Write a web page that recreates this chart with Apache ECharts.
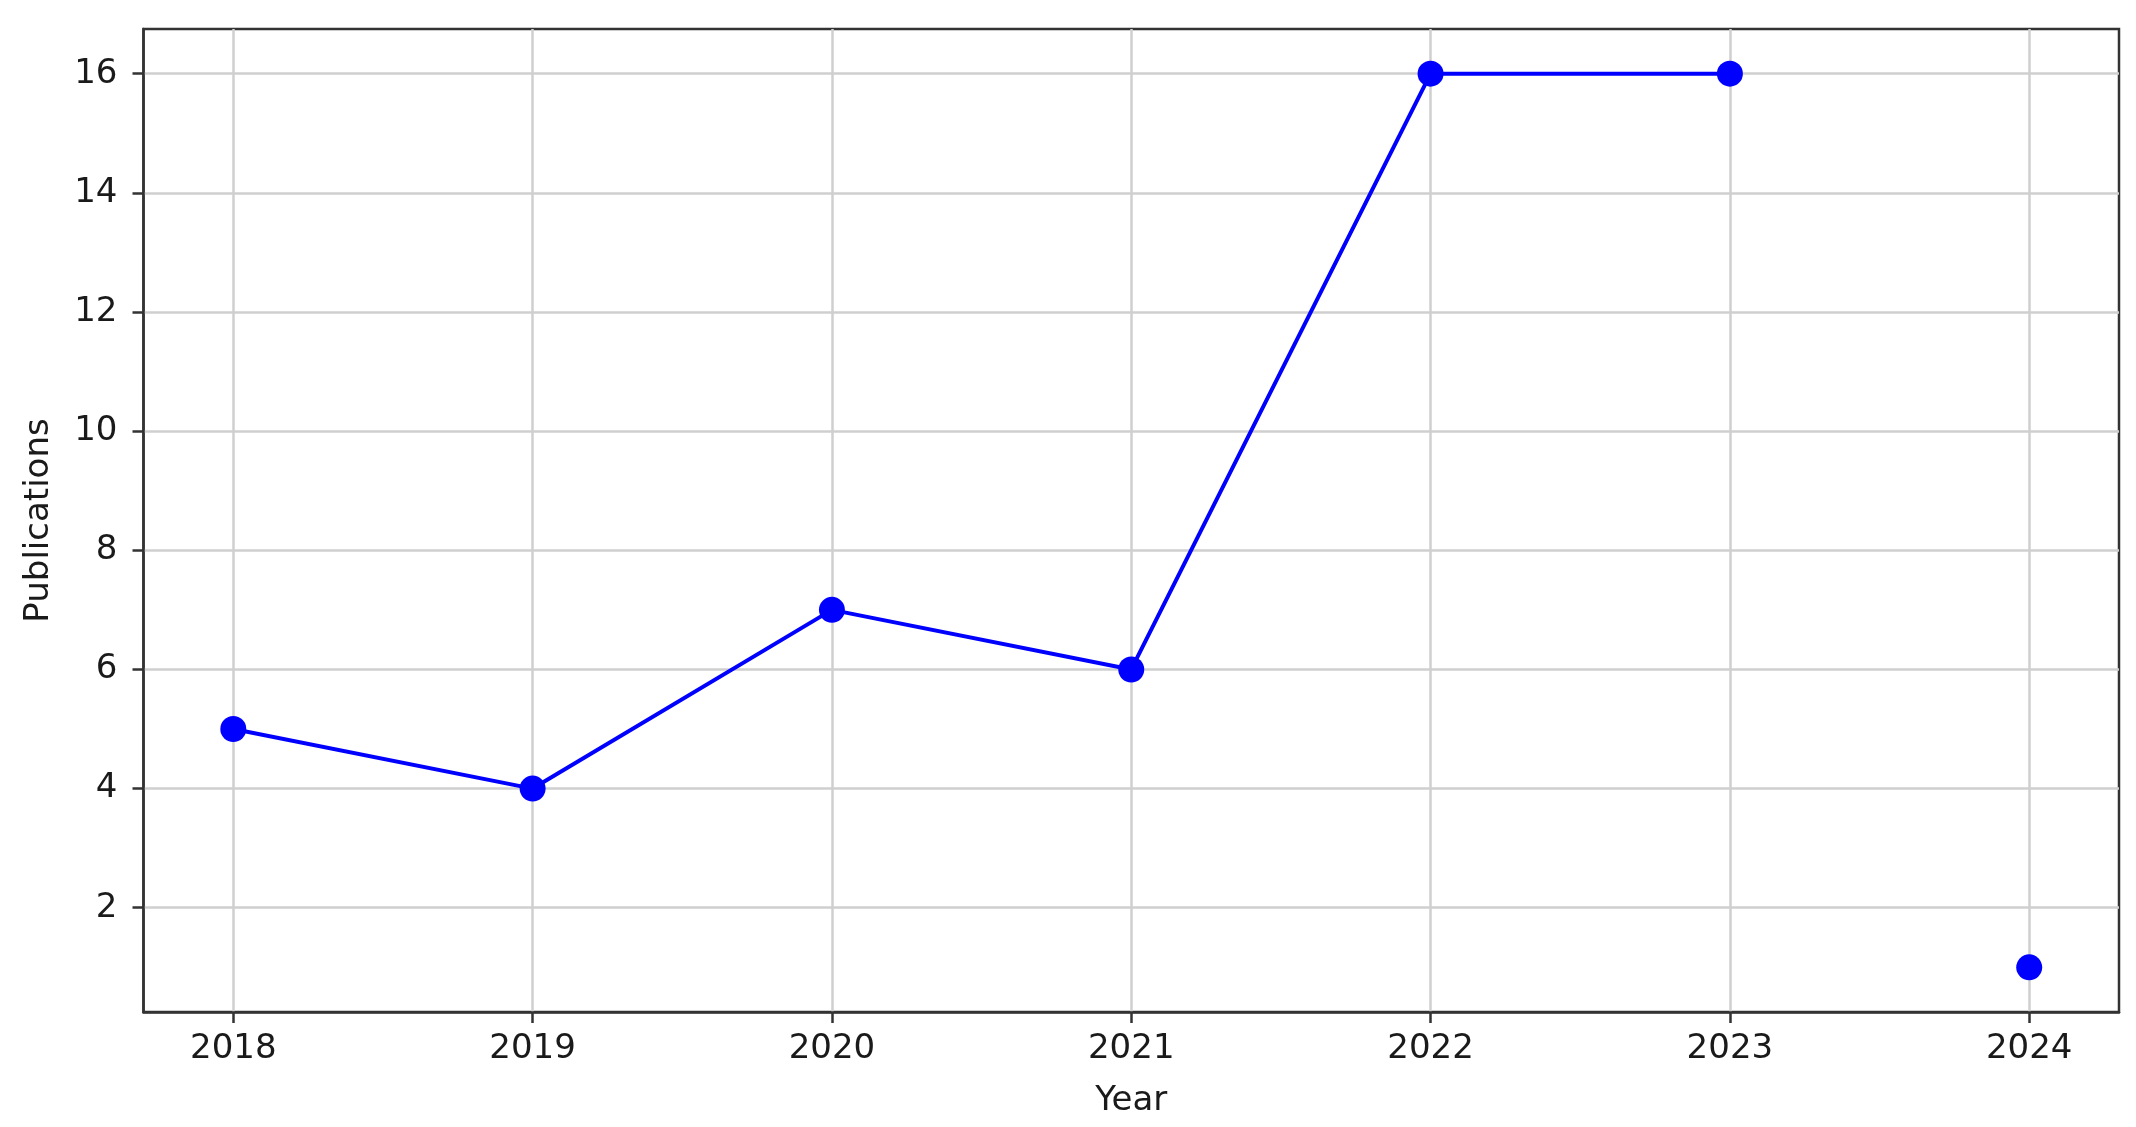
<!DOCTYPE html>
<html>
<head>
<meta charset="utf-8">
<script src="https://cdn.jsdelivr.net/npm/echarts@6/dist/echarts.min.js"></script>
<style>
html,body{margin:0;padding:0;background:#fff;}
#chart{width:2136px;height:1127px;}
</style>
</head>
<body>
<div id="chart"></div>
<script>
const years = [2018, 2019, 2020, 2021, 2022, 2023];
const publications = [5, 4, 7, 6, 16, 16];
const separateYears = [2024];
const separatePublications = [1];
const xTicks = [2018, 2019, 2020, 2021, 2022, 2023, 2024];
const yTicks = [2, 4, 6, 8, 10, 12, 14, 16];

const chart = echarts.init(document.getElementById('chart'));
const font = 'DejaVu Sans';
const gridColor = '#cfcfcf';
const axisColor = '#333333';

chart.setOption({
  animation: false,
  backgroundColor: '#ffffff',
  grid: {
    left: 143.5, right: 17, top: 29, bottom: 115,
    show: true, borderColor: axisColor, borderWidth: 2.5, backgroundColor: 'transparent'
  },
  xAxis: {
    type: 'value',
    min: 2017.7, max: 2024.3,
    name: 'Year',
    nameLocation: 'middle',
    nameGap: 72,
    nameTextStyle: {fontFamily: font, fontSize: 34, color: '#1a1a1a'},
    axisLine: {show: true, lineStyle: {color: axisColor, width: 2.5}},
    axisTick: {show: true, length: 11, lineStyle: {color: axisColor, width: 2.5}, customValues: xTicks},
    axisLabel: {fontFamily: font, fontSize: 34, color: '#1a1a1a', margin: 20, customValues: xTicks, formatter: v => String(v)},
    splitLine: {show: true, lineStyle: {color: gridColor, width: 2.5}, customValues: xTicks}
  },
  yAxis: {
    type: 'value',
    min: 0.25, max: 16.75,
    name: 'Publications',
    nameLocation: 'middle',
    nameGap: 87,
    nameRotate: 90,
    nameTextStyle: {fontFamily: font, fontSize: 34, color: '#1a1a1a'},
    axisLine: {show: true, lineStyle: {color: axisColor, width: 2.5}},
    axisTick: {show: true, length: 11, lineStyle: {color: axisColor, width: 2.5}, customValues: yTicks},
    axisLabel: {fontFamily: font, fontSize: 34, color: '#1a1a1a', margin: 26, customValues: yTicks},
    splitLine: {show: true, lineStyle: {color: gridColor, width: 2.5}, customValues: yTicks}
  },
  series: [
    {
      type: 'line',
      data: years.map((y, i) => [y, publications[i]]),
      symbol: 'circle',
      symbolSize: 26,
      itemStyle: {color: '#0000ff'},
      lineStyle: {color: '#0000ff', width: 4},
      z: 3
    },
    {
      type: 'line',
      data: separateYears.map((y, i) => [y, separatePublications[i]]),
      symbol: 'circle',
      symbolSize: 26,
      showSymbol: true,
      itemStyle: {color: '#0000ff'},
      lineStyle: {color: '#0000ff', width: 4},
      z: 3
    }
  ]
});
</script>
</body>
</html>
